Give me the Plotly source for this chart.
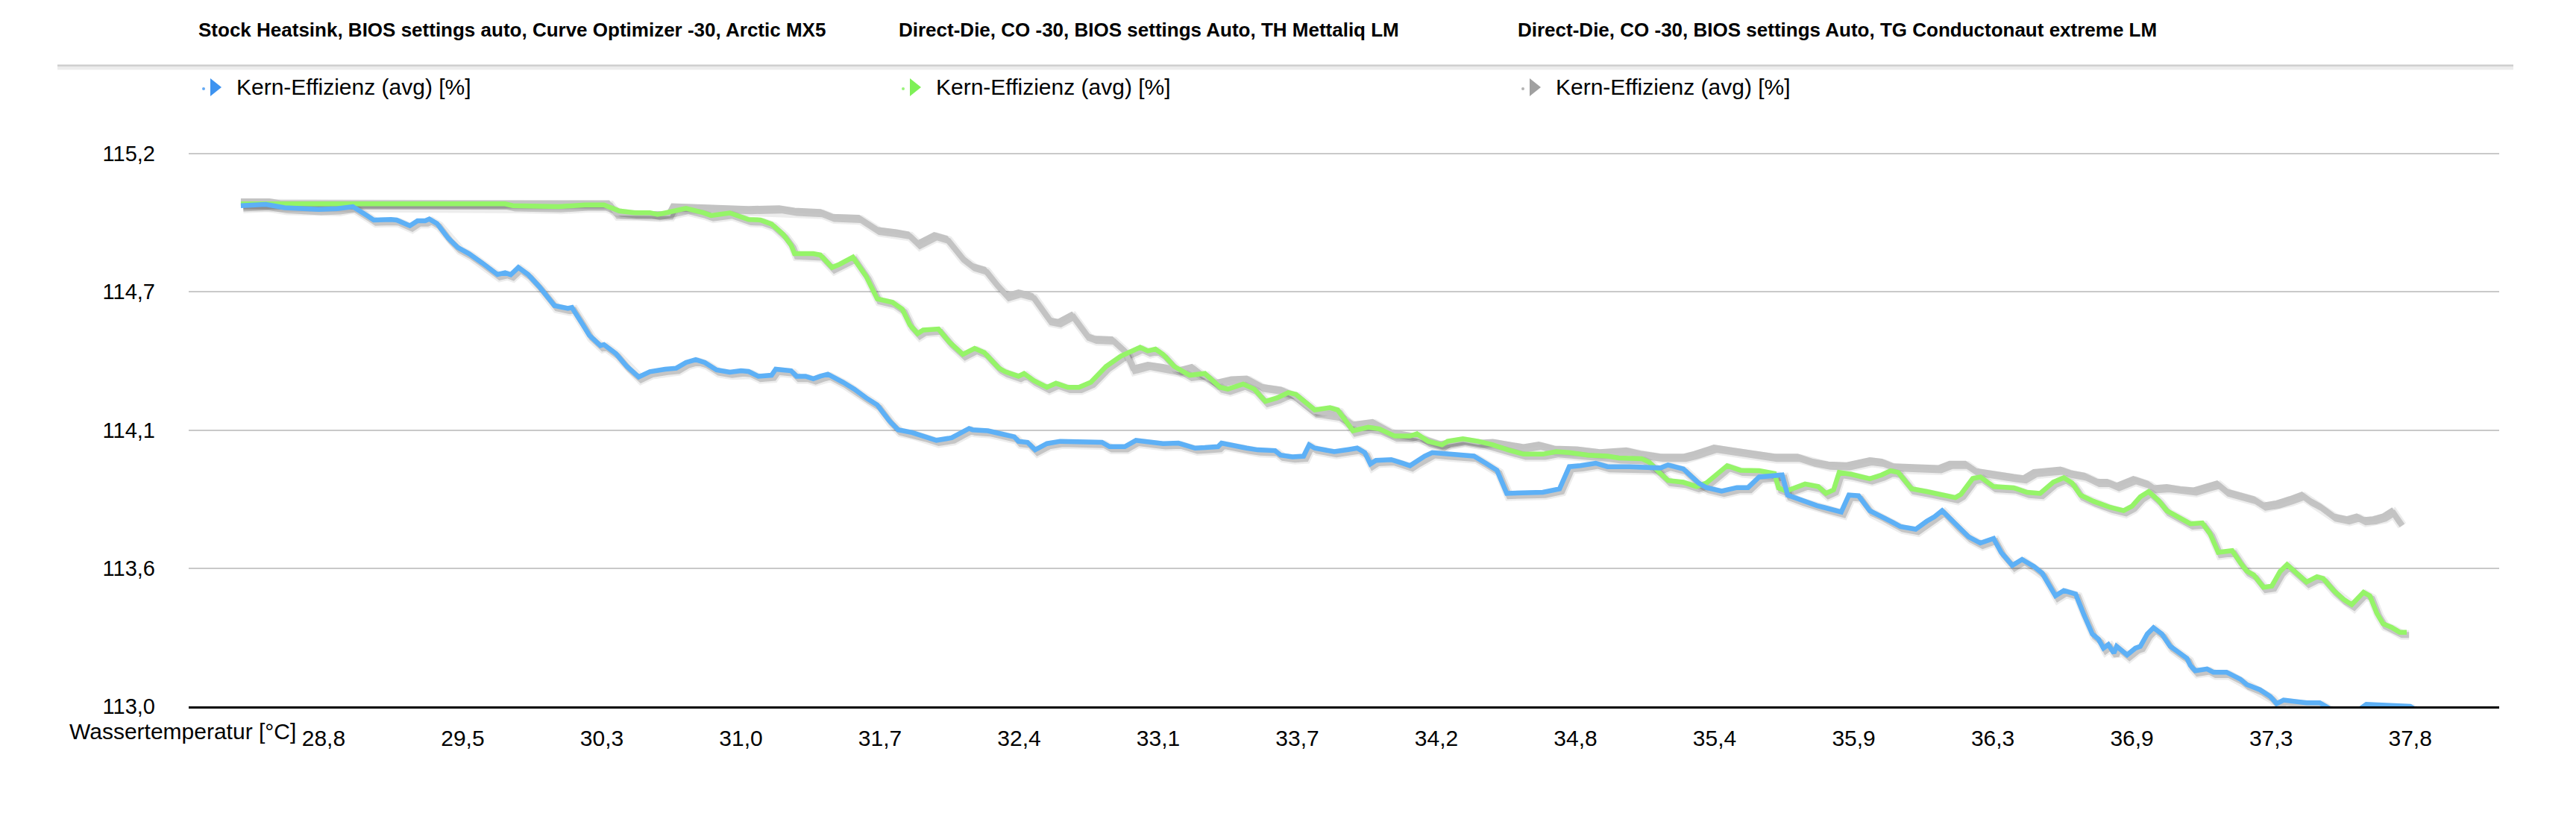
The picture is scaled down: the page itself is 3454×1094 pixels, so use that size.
import plotly.graph_objects as go
import numpy as np

# ---------------- data ----------------
series_titles = [
    "Stock Heatsink, BIOS settings auto, Curve Optimizer -30, Arctic MX5",
    "Direct-Die, CO -30, BIOS settings Auto, TH Mettaliq LM",
    "Direct-Die, CO -30, BIOS settings Auto, TG Conductonaut extreme LM",
]
series_name = "Kern-Effizienz (avg) [%]"
x_title = "Wassertemperatur [°C]"

# x tick labels (water temperature) and the sample index at which each is shown
tick_labels = ["28,8", "29,5", "30,3", "31,0", "31,7", "32,4", "33,1", "33,7",
               "34,2", "34,8", "35,4", "35,9", "36,3", "36,9", "37,3", "37,8"]
tick_samples = [12, 32, 52, 72, 92, 112, 132, 152, 172, 192, 212, 232, 252, 272, 292, 312]

y_tick_vals = [113.0, 113.55, 114.1, 114.65, 115.2]
y_tick_text = ["113,0", "113,6", "114,1", "114,7", "115,2"]

# (sample, value) pairs
blue_points = [
    (0.1, 114.993), (3.7, 114.998), (6.4, 114.985), (11.3, 114.978), (14.0, 114.981), (15.4, 114.989),
    (16.2, 114.989), (18.2, 114.954), (19.2, 114.936), (21.7, 114.938), (22.5, 114.936), (24.4, 114.913),
    (25.5, 114.933), (26.6, 114.933), (27.2, 114.940), (28.3, 114.922), (29.9, 114.864), (31.3, 114.826),
    (32.9, 114.802), (34.8, 114.765), (37.0, 114.719), (38.1, 114.726), (38.9, 114.718), (40.0, 114.747),
    (41.4, 114.719), (43.0, 114.671), (43.9, 114.640), (45.2, 114.595), (47.1, 114.584), (47.7, 114.588),
    (49.3, 114.518), (50.2, 114.477), (51.8, 114.436), (52.3, 114.440), (54.0, 114.405), (55.6, 114.353),
    (57.3, 114.311), (58.9, 114.332), (61.1, 114.342), (62.7, 114.346), (64.1, 114.369), (65.5, 114.380),
    (66.8, 114.369), (68.5, 114.339), (70.4, 114.330), (72.0, 114.336), (73.1, 114.333), (74.5, 114.314),
    (76.4, 114.318), (77.0, 114.342), (79.2, 114.336), (80.0, 114.314), (81.3, 114.314), (82.4, 114.304),
    (83.4, 114.314), (84.5, 114.322), (86.7, 114.290), (88.3, 114.263), (90.0, 114.228), (91.6, 114.200),
    (93.3, 114.138), (94.6, 114.101), (96.6, 114.090), (98.2, 114.076), (100.1, 114.059), (102.3, 114.069),
    (103.7, 114.090), (104.8, 114.106), (105.3, 114.101), (107.5, 114.097), (109.7, 114.083), (111.3, 114.073),
    (111.9, 114.055), (113.2, 114.051), (114.3, 114.021), (116.0, 114.046), (117.9, 114.055), (120.1, 114.055),
    (121.7, 114.051), (123.9, 114.051), (125.0, 114.034), (127.2, 114.034), (128.8, 114.059), (131.0, 114.051),
    (132.7, 114.046), (134.9, 114.048), (135.9, 114.041), (137.3, 114.028), (138.7, 114.030), (140.6, 114.034),
    (141.1, 114.048), (142.8, 114.037), (144.7, 114.028), (146.3, 114.021), (148.8, 114.018), (149.6, 114.000),
    (151.3, 113.993), (152.9, 113.996), (153.7, 114.041), (154.5, 114.028), (157.3, 114.014), (159.5, 114.023),
    (160.6, 114.028), (161.7, 114.010), (162.5, 113.965), (163.3, 113.979), (165.5, 113.982), (167.1, 113.968),
    (168.2, 113.958), (169.2, 113.976), (170.3, 113.996), (171.4, 114.010), (173.6, 114.004), (174.7, 114.000),
    (177.4, 113.996), (179.1, 113.968), (180.7, 113.940), (182.1, 113.848), (184.5, 113.852), (187.3, 113.852),
    (189.7, 113.866), (191.1, 113.954), (192.7, 113.958), (194.9, 113.968), (196.6, 113.954), (199.8, 113.954),
    (204.2, 113.949), (205.3, 113.961), (207.5, 113.945), (209.7, 113.889), (210.8, 113.871), (213.0, 113.857),
    (215.2, 113.871), (216.8, 113.871), (218.4, 113.913), (221.7, 113.921), (222.5, 113.841), (224.5, 113.820),
    (226.7, 113.799), (227.7, 113.792), (230.2, 113.774), (231.3, 113.841), (232.7, 113.838), (234.3, 113.779),
    (236.0, 113.758), (237.3, 113.737), (238.7, 113.716), (240.9, 113.705), (242.5, 113.737), (243.6, 113.755),
    (244.7, 113.779), (246.9, 113.716), (248.5, 113.675), (250.2, 113.650), (252.1, 113.668), (253.2, 113.613),
    (254.8, 113.561), (256.2, 113.585), (257.9, 113.557), (259.1, 113.530), (260.3, 113.474), (261.0, 113.440),
    (262.2, 113.461), (263.9, 113.447), (265.1, 113.364), (266.3, 113.288), (267.2, 113.267), (267.9, 113.232),
    (268.6, 113.246), (269.4, 113.212), (269.8, 113.239), (271.3, 113.205), (272.5, 113.232), (273.2, 113.239),
    (274.2, 113.288), (275.1, 113.313), (276.3, 113.288), (277.5, 113.239), (278.5, 113.219), (279.9, 113.191),
    (280.4, 113.163), (281.1, 113.142), (282.8, 113.149), (283.7, 113.136), (285.6, 113.136), (287.6, 113.108),
    (288.5, 113.087), (290.4, 113.066), (291.9, 113.039), (292.8, 113.011), (293.8, 113.025), (295.7, 113.018),
    (297.1, 113.014), (299.0, 113.014), (300.5, 112.990), (302.4, 112.972), (304.8, 112.990), (305.7, 113.008),
    (307.7, 113.004), (310.1, 113.004), (312.0, 113.000), (313.4, 112.976),
]

green_points = [
    (0.1, 115.000), (4.2, 115.000), (38.1, 115.000), (39.2, 114.993), (45.2, 114.990), (45.8, 114.989),
    (49.6, 114.996), (52.3, 114.996), (54.5, 114.972), (56.7, 114.965), (58.9, 114.965), (60.0, 114.958),
    (61.1, 114.964), (63.3, 114.978), (64.1, 114.982), (66.6, 114.965), (67.7, 114.954), (70.4, 114.964),
    (72.0, 114.947), (73.1, 114.938), (74.8, 114.936), (76.4, 114.920), (78.1, 114.878), (79.2, 114.837),
    (79.7, 114.802), (82.4, 114.802), (83.4, 114.797), (85.1, 114.747), (86.2, 114.760), (88.1, 114.788),
    (90.0, 114.712), (91.6, 114.622), (93.8, 114.608), (95.2, 114.581), (96.3, 114.518), (97.4, 114.484),
    (98.2, 114.498), (100.4, 114.502), (102.0, 114.449), (103.9, 114.401), (105.6, 114.425), (107.0, 114.408),
    (109.1, 114.346), (110.0, 114.332), (111.9, 114.314), (112.7, 114.325), (114.1, 114.297), (116.0, 114.270),
    (117.3, 114.286), (119.0, 114.270), (120.6, 114.270), (122.3, 114.290), (124.5, 114.353), (126.6, 114.394),
    (129.4, 114.429), (130.5, 114.415), (131.6, 114.422), (132.7, 114.401), (134.3, 114.353), (136.5, 114.318),
    (138.7, 114.325), (140.9, 114.270), (142.0, 114.263), (144.2, 114.283), (145.8, 114.263), (147.4, 114.214),
    (149.1, 114.228), (150.7, 114.249), (151.8, 114.242), (154.5, 114.180), (156.7, 114.189), (157.8, 114.180),
    (160.0, 114.097), (162.2, 114.111), (163.8, 114.104), (166.0, 114.076), (168.2, 114.076), (169.2, 114.085),
    (170.8, 114.055), (172.8, 114.041), (173.6, 114.055), (175.8, 114.065), (178.0, 114.055), (180.1, 114.041),
    (182.3, 114.021), (184.5, 114.004), (187.3, 114.004), (189.2, 114.014), (191.1, 114.010), (193.8, 114.000),
    (196.6, 113.996), (198.2, 113.989), (201.5, 113.986), (202.6, 113.972), (204.2, 113.927), (205.3, 113.899),
    (207.5, 113.892), (209.4, 113.875), (210.8, 113.889), (212.4, 113.927), (213.8, 113.958), (215.7, 113.940),
    (218.4, 113.938), (220.6, 113.927), (221.2, 113.869), (222.3, 113.857), (223.4, 113.869), (225.0, 113.885),
    (226.9, 113.875), (228.0, 113.848), (229.1, 113.862), (229.9, 113.931), (231.6, 113.924), (234.3, 113.906),
    (236.0, 113.921), (237.3, 113.938), (238.4, 113.931), (240.3, 113.866), (242.5, 113.855), (244.7, 113.841),
    (246.6, 113.831), (247.4, 113.844), (249.1, 113.907), (250.2, 113.913), (252.1, 113.875), (255.0, 113.870),
    (256.9, 113.852), (258.8, 113.848), (260.7, 113.893), (262.2, 113.910), (263.4, 113.889), (264.6, 113.841),
    (266.5, 113.816), (268.9, 113.792), (270.8, 113.779), (272.0, 113.797), (273.2, 113.834), (274.4, 113.855),
    (275.8, 113.820), (277.0, 113.779), (279.4, 113.744), (280.4, 113.727), (282.1, 113.730), (283.2, 113.689),
    (284.4, 113.613), (286.4, 113.620), (287.6, 113.571), (288.5, 113.539), (289.5, 113.523), (290.9, 113.474),
    (292.1, 113.479), (293.3, 113.537), (294.3, 113.564), (295.5, 113.537), (297.1, 113.495), (298.6, 113.516),
    (299.5, 113.509), (301.0, 113.461), (302.4, 113.426), (303.6, 113.405), (305.3, 113.454), (306.2, 113.440),
    (307.2, 113.371), (308.1, 113.329), (309.3, 113.315), (310.5, 113.295), (311.5, 113.295),
]

gray_points = [
    (0.1, 115.012), (4.2, 115.012), (5.8, 115.005), (52.9, 115.005), (54.0, 114.963), (61.6, 114.961),
    (62.2, 114.993), (66.0, 114.989), (69.9, 114.985), (73.1, 114.982), (77.5, 114.985), (79.7, 114.975),
    (83.4, 114.970), (85.1, 114.951), (88.9, 114.947), (91.6, 114.899), (94.4, 114.889), (96.0, 114.881),
    (97.4, 114.844), (99.8, 114.878), (101.5, 114.864), (103.7, 114.788), (105.3, 114.754), (107.0, 114.740),
    (108.6, 114.684), (110.2, 114.636), (111.9, 114.650), (113.8, 114.636), (116.3, 114.539), (117.6, 114.532),
    (119.5, 114.560), (121.7, 114.477), (122.8, 114.466), (125.3, 114.463), (127.2, 114.415), (128.3, 114.346),
    (130.5, 114.362), (132.7, 114.353), (134.9, 114.339), (136.8, 114.353), (138.1, 114.325), (140.3, 114.290),
    (142.5, 114.304), (144.7, 114.307), (146.9, 114.274), (149.6, 114.263), (151.3, 114.242), (154.5, 114.173),
    (157.8, 114.159), (160.0, 114.124), (162.8, 114.134), (165.5, 114.093), (169.2, 114.076), (172.5, 114.046),
    (175.8, 114.062), (178.0, 114.051), (180.1, 114.055), (182.3, 114.044), (184.5, 114.034), (186.7, 114.044),
    (188.9, 114.028), (192.2, 114.025), (195.5, 114.014), (199.3, 114.021), (201.5, 114.007), (204.2, 113.996),
    (207.5, 113.996), (209.1, 114.007), (211.9, 114.032), (214.6, 114.021), (217.3, 114.010), (220.6, 113.996),
    (223.9, 113.996), (226.1, 113.976), (228.3, 113.965), (231.0, 113.962), (234.3, 113.982), (236.0, 113.976),
    (237.6, 113.958), (240.3, 113.954), (244.2, 113.951), (245.8, 113.968), (248.0, 113.968), (249.6, 113.938),
    (252.4, 113.924), (255.0, 113.915), (256.4, 113.910), (257.9, 113.935), (259.8, 113.940), (261.7, 113.945),
    (263.1, 113.931), (265.1, 113.921), (267.0, 113.896), (268.4, 113.896), (269.8, 113.880), (272.2, 113.907),
    (274.2, 113.889), (275.1, 113.871), (277.0, 113.875), (278.9, 113.866), (280.9, 113.862), (282.8, 113.878),
    (284.2, 113.889), (285.6, 113.857), (287.6, 113.844), (289.5, 113.827), (290.9, 113.802), (292.8, 113.810),
    (294.7, 113.827), (296.4, 113.844), (297.6, 113.820), (299.0, 113.799), (301.0, 113.758), (302.9, 113.747),
    (304.3, 113.758), (305.3, 113.744), (306.7, 113.747), (308.1, 113.758), (309.3, 113.779), (310.1, 113.744),
    (310.5, 113.730),
]

blue_s, blue_v = [list(t) for t in zip(*blue_points)]
green_s, green_v = [list(t) for t in zip(*green_points)]
gray_s, gray_v = [list(t) for t in zip(*gray_points)]

# ---------------- styling ----------------
FONT = "Liberation Sans, Arial, Helvetica, sans-serif"
line_colors = ["#5db0f6", "#95f468", "#c3c3c3"]
legend_colors = ["#3d93f0", "#7ef057", "#a0a0a0"]

W, H = 3430, 1078
PL, PT, PW, PH = 245, 197, 3098, 742   # plot area in figure pixels
ML, MT = 8, 8                           # page body margin


def px(page_x):
    return (page_x - ML - PL) / PW


def py(page_y):
    return (PT + PH - (page_y - MT)) / PH


fig = go.Figure()

series = [(blue_s, blue_v), (green_s, green_v), (gray_s, gray_v)]
draw_order = [2, 1, 0]

# soft drop shadows
for i in draw_order:
    s, v = series[i]
    xs = np.array(s) + 0.35
    ys = np.array(v) - 0.011
    fig.add_trace(go.Scatter(x=xs, y=ys, mode="lines", showlegend=False, hoverinfo="skip",
                             line=dict(color="rgba(0,0,0,0.07)", width=13)))
    fig.add_trace(go.Scatter(x=xs, y=ys, mode="lines", showlegend=False, hoverinfo="skip",
                             line=dict(color="rgba(0,0,0,0.17)", width=8)))

for i in draw_order:
    s, v = series[i]
    fig.add_trace(go.Scatter(x=s, y=v, mode="lines", showlegend=False, name=series_titles[i],
                             line=dict(color=line_colors[i], width=6.5)))

# series headers and legend rows
title_x = [264, 1203, 2033]
legend_text_x = [315, 1253, 2084]
LEG_Y = 117

annotations = []
shapes = []
for i in range(3):
    annotations.append(dict(text="<b>" + series_titles[i] + "</b>", xref="paper", yref="paper",
                            x=px(title_x[i]), y=py(40), xanchor="left", yanchor="middle",
                            showarrow=False, font=dict(family=FONT, size=26, color="#000000")))
    annotations.append(dict(text=series_name, xref="paper", yref="paper",
                            x=px(legend_text_x[i]), y=py(LEG_Y), xanchor="left", yanchor="middle",
                            showarrow=False, font=dict(family=FONT, size=30, color="#000000")))
    tx0 = legend_text_x[i] - 33
    tx1 = legend_text_x[i] - 18
    path = "M {:.5f},{:.5f} L {:.5f},{:.5f} L {:.5f},{:.5f} Z".format(
        px(tx0), py(LEG_Y - 12), px(tx1), py(LEG_Y), px(tx0), py(LEG_Y + 12))
    shapes.append(dict(type="path", xref="paper", yref="paper", path=path,
                       fillcolor=legend_colors[i], line=dict(width=0)))
    dx = legend_text_x[i] - 42
    shapes.append(dict(type="circle", xref="paper", yref="paper",
                       x0=px(dx - 2), x1=px(dx + 2), y0=py(LEG_Y + 4), y1=py(LEG_Y - 0),
                       fillcolor=legend_colors[i], line=dict(width=0), opacity=0.8))

annotations.append(dict(text=x_title, xref="paper", yref="paper", x=px(399), y=py(980),
                        xanchor="right", yanchor="middle", showarrow=False,
                        font=dict(family=FONT, size=30, color="#000000")))

shapes += [
    dict(type="line", xref="paper", yref="paper", x0=px(77), x1=px(3370), y0=py(88), y1=py(88),
         line=dict(color="#cfcfcf", width=3)),
    dict(type="line", xref="paper", yref="paper", x0=px(77), x1=px(3370), y0=py(91.5), y1=py(91.5),
         line=dict(color="#ececec", width=4)),
]

fig.update_layout(
    width=W, height=H,
    margin=dict(l=PL, r=W - PL - PW, t=PT, b=H - PT - PH, autoexpand=False),
    paper_bgcolor="white", plot_bgcolor="white",
    font=dict(family=FONT, color="#000000"),
    showlegend=False,
    xaxis=dict(range=[-7.4, 324.8], tickmode="array", tickvals=tick_samples, ticktext=tick_labels,
               showgrid=False, zeroline=False, showline=True, linecolor="#000000", linewidth=3,
               ticks="", ticklabelstandoff=14, automargin=False,
               tickfont=dict(family=FONT, size=30, color="#000000")),
    yaxis=dict(range=[113.0, 115.203], tickmode="array", tickvals=y_tick_vals, ticktext=y_tick_text,
               showgrid=True, gridcolor="#c9c9c9", gridwidth=2, zeroline=False, showline=False,
               ticks="", ticklabelstandoff=44, automargin=False,
               tickfont=dict(family=FONT, size=29, color="#000000")),
    annotations=annotations,
    shapes=shapes,
)

fig.write_html("out.html")
